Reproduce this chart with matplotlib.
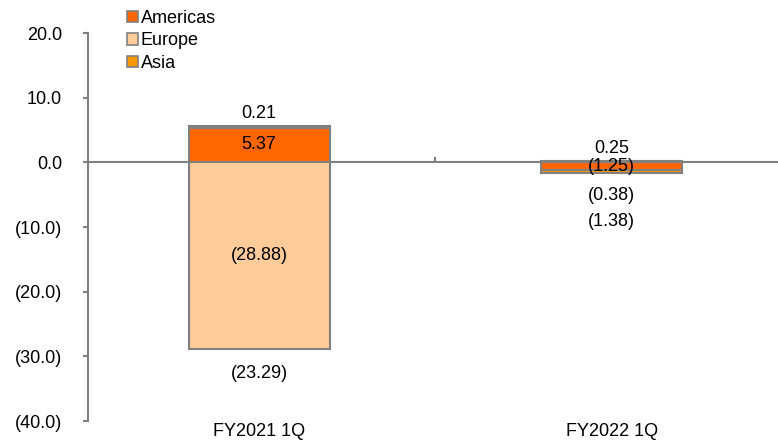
import numpy as np
import matplotlib.pyplot as plt
from matplotlib.patches import Patch
from matplotlib.ticker import FuncFormatter
import matplotlib.transforms as mtransforms

plt.rcParams['font.family'] = ['Liberation Sans', 'DejaVu Sans']

# quarterly contribution by region
quarters = ['FY2021 1Q', 'FY2022 1Q']
regions = ['Americas', 'Europe', 'Asia']
americas = [5.37, -1.25]
europe = [-28.88, 0.25]
asia = [0.21, -0.38]
totals = [-23.29, -1.38]

colors = ['#FF6600', '#FFCC99', '#FF9900']
edge = '#808080'
fs = 13


def paren(v, nd):
    s = f'{abs(v):.{nd}f}'
    return f'({s})' if v < 0 else s


fig = plt.figure(figsize=(7.78, 4.42), dpi=100)
ax = fig.add_axes([88 / 778, 21 / 442, 700 / 778, 388 / 442])

x = np.arange(len(quarters))
width = 0.4
pos_base = np.zeros(len(quarters))
neg_base = np.zeros(len(quarters))
segs = []
for name, vals, c in zip(regions, [americas, europe, asia], colors):
    vals = np.array(vals)
    base = np.where(vals >= 0, pos_base, neg_base)
    ax.bar(x, vals, width, bottom=base, color=c, edgecolor=edge, linewidth=1.5, zorder=3)
    segs.append((vals, base))
    pos_base = np.where(vals >= 0, pos_base + vals, pos_base)
    neg_base = np.where(vals < 0, neg_base + vals, neg_base)

# data labels: inside for large segments, outside for thin ones
below_count = np.zeros(len(quarters), dtype=int)
for vals, base in segs:
    for i, v in enumerate(vals):
        if abs(v) >= 0.5:
            ax.annotate(paren(v, 2), (x[i], base[i] + v / 2), ha='center', va='center',
                        fontsize=fs, zorder=5)
        elif v >= 0:
            ax.annotate(paren(v, 2), (x[i], pos_base[i]), xytext=(0, 9),
                        textcoords='offset points', ha='center', va='center',
                        fontsize=fs, zorder=5)
        else:
            below_count[i] += 1
            ax.annotate(paren(v, 2), (x[i], neg_base[i]), xytext=(0, -16.5 * below_count[i]),
                        textcoords='offset points', ha='center', va='center',
                        fontsize=fs, zorder=5)
for i, t in enumerate(totals):
    below_count[i] += 1
    ax.annotate(paren(t, 2), (x[i], neg_base[i]), xytext=(0, -17.5 * below_count[i]),
                textcoords='offset points', ha='center', va='center', fontsize=fs, zorder=5)

ax.set_xlim(-0.485, 1.5)
ax.set_ylim(-40, 20)
ax.set_yticks(np.arange(-40, 21, 10))
ax.yaxis.set_major_formatter(FuncFormatter(lambda v, p: paren(v, 1)))

for s in ['top', 'right']:
    ax.spines[s].set_visible(False)
ax.spines['left'].set_color(edge)
ax.spines['left'].set_linewidth(1.5)
ax.spines['bottom'].set_position(('data', 0))
ax.spines['bottom'].set_color(edge)
ax.spines['bottom'].set_linewidth(1.5)
ax.spines['bottom'].set_zorder(2)

ax.tick_params(axis='y', direction='out', length=3.6, width=1.5, color=edge,
               labelsize=fs, pad=15)
ax.set_xticks([])
ax.set_xticks([0.5], minor=True)
ax.tick_params(axis='x', which='minor', direction='in', length=3.6, width=1.5, color=edge)

trans = mtransforms.blended_transform_factory(ax.transData, ax.transAxes)
for i, q in enumerate(quarters):
    ax.text(x[i], -0.028, q, transform=trans, ha='center', va='center', fontsize=fs)

handles = [Patch(facecolor=c, edgecolor=edge, linewidth=1.2) for c in colors]
fig.legend(handles, regions, loc='upper left', bbox_to_anchor=(127 / 778, 1 - 10 / 442),
           frameon=False, fontsize=fs, handlelength=0.6, handleheight=0.6,
           handletextpad=0.15, labelspacing=0.3, borderpad=0, borderaxespad=0)

fig.savefig('out.png', dpi=100)
